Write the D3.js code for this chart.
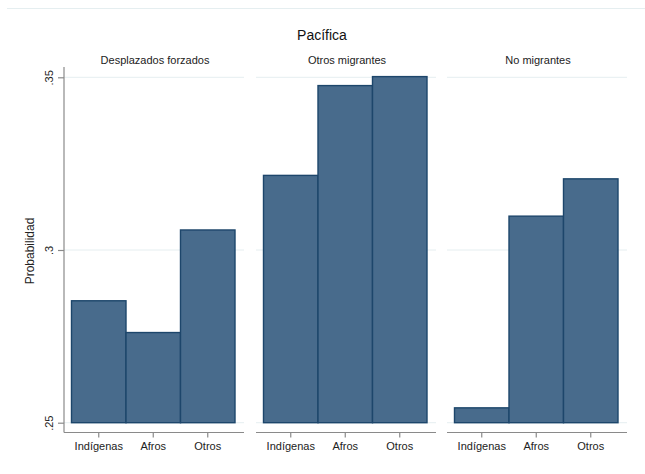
<!DOCTYPE html>
<html>
<head>
<meta charset="utf-8">
<script src="https://cdn.jsdelivr.net/npm/d3@7"></script>
<style>
  html, body { margin: 0; padding: 0; background: #ffffff; }
  svg { display: block; font-family: "Liberation Sans", Arial, sans-serif; }
</style>
</head>
<body>
<svg id="chart" width="645" height="474"></svg>
<script>
// Predicted probabilities by group, region: Pacífica
const panelTitles = ["Desplazados forzados", "Otros migrantes", "No migrantes"];
const categories = ["Indígenas", "Afros", "Otros"];
const desplazados = [0.2853, 0.2761, 0.3058];
const otrosMigrantes = [0.3216, 0.3476, 0.3502];
const noMigrantes = [0.2543, 0.3098, 0.3206];
const yTickValues = [0.25, 0.30, 0.35];
const yTickLabels = [".25", ".3", ".35"];

const seriesByPanel = [desplazados, otrosMigrantes, noMigrantes];

const svg = d3.select("#chart");

const fillColor = "#486b8c";
const strokeColor = "#1d466b";
const gridColor = "#e5eef0";
const axisColor = "#8a8a8a";
const textColor = "#222222";

// Overall frame line and title
svg.append("line")
  .attr("x1", 7).attr("x2", 645).attr("y1", 8.5).attr("y2", 8.5)
  .attr("stroke", gridColor).attr("stroke-width", 1);

svg.append("text")
  .attr("x", 322).attr("y", 40)
  .attr("text-anchor", "middle")
  .attr("font-size", 14)
  .attr("fill", "#111")
  .text("Pacífica");

// Shared vertical scale
const y = d3.scaleLinear().domain([0.25, 0.35]).range([422.7, 77.3]);

// Panel horizontal extents
const panelX = [[64, 244], [256, 436], [447, 627]];
const axisY = 432.5;

panelX.forEach(([x0, x1], i) => {
  const g = svg.append("g");
  const x = d3.scaleBand().domain(categories).range([x0 + 7.5, x1 - 9]).paddingInner(0).paddingOuter(0);

  // panel subtitle
  g.append("text")
    .attr("x", (x0 + x1) / 2 + 1).attr("y", 64)
    .attr("text-anchor", "middle")
    .attr("font-size", 11)
    .attr("fill", textColor)
    .text(panelTitles[i]);

  // horizontal grid lines
  g.selectAll("line.grid").data(yTickValues).join("line")
    .attr("class", "grid")
    .attr("x1", x0).attr("x2", x1)
    .attr("y1", d => y(d)).attr("y2", d => y(d))
    .attr("stroke", gridColor).attr("stroke-width", 1);

  // bars
  const vals = seriesByPanel[i];
  g.selectAll("rect.bar").data(categories).join("rect")
    .attr("class", "bar")
    .attr("x", d => x(d))
    .attr("width", x.bandwidth())
    .attr("y", (d, j) => y(vals[j]))
    .attr("height", (d, j) => y(0.25) - y(vals[j]))
    .attr("fill", fillColor)
    .attr("stroke", strokeColor)
    .attr("stroke-width", 1.4);

  // x axis
  const xAxis = d3.axisBottom(x).tickSize(5).tickSizeOuter(0).tickPadding(5);
  const ax = g.append("g").attr("transform", `translate(0,${axisY})`).call(xAxis);
  ax.select(".domain").remove();
  ax.append("line")
    .attr("x1", x0).attr("x2", x1).attr("y1", 0).attr("y2", 0)
    .attr("stroke", axisColor).attr("stroke-width", 1.2);
  ax.selectAll(".tick line").attr("stroke", axisColor).attr("stroke-width", 1.2);
  ax.selectAll(".tick text")
    .attr("font-size", 11)
    .attr("font-family", "'Liberation Sans', Arial, sans-serif")
    .attr("fill", textColor);
});

// y axis on the first panel
const yAxis = d3.axisLeft(y)
  .tickValues(yTickValues)
  .tickFormat((d, k) => yTickLabels[k])
  .tickSize(6).tickSizeOuter(0);
const ya = svg.append("g").attr("transform", "translate(64,0)").call(yAxis);
ya.select(".domain").remove();
ya.append("line")
  .attr("x1", 0).attr("x2", 0).attr("y1", 67).attr("y2", axisY)
  .attr("stroke", axisColor).attr("stroke-width", 1.2);
ya.selectAll(".tick line").attr("stroke", axisColor).attr("stroke-width", 1.2);
ya.selectAll(".tick text")
  .attr("x", null).attr("dy", null)
  .attr("transform", "translate(-11,0) rotate(-90)")
  .attr("text-anchor", "middle")
  .attr("font-size", 11)
  .attr("font-family", "'Liberation Sans', Arial, sans-serif")
  .attr("fill", textColor);

// y axis title
svg.append("text")
  .attr("transform", "translate(34,251) rotate(-90)")
  .attr("text-anchor", "middle")
  .attr("font-size", 12)
  .attr("fill", textColor)
  .text("Probabilidad");
</script>
</body>
</html>
